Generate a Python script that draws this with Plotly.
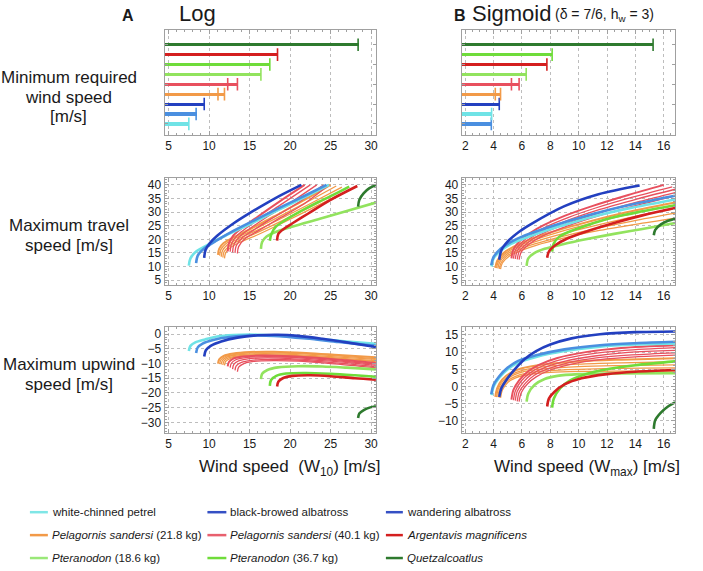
import plotly.graph_objects as go

W, H = 703, 571

# ---------------- data ----------------
SPECIES = ["petrel", "blackbrowed", "wandering", "pel21", "pel40",
           "pter18", "pter36", "argentavis", "quetz"]
LEGEND_ORDER = ["petrel", "blackbrowed", "wandering",
                "pel21", "pel40", "argentavis",
                "pter18", "pter36", "quetz"]
LEGEND_LABELS = {
    "petrel": "white-chinned petrel",
    "blackbrowed": "black-browed albatross",
    "wandering": "wandering albatross",
    "pel21": "<i>Pelagornis sandersi</i> (21.8 kg)",
    "pel40": "<i>Pelagornis sandersi</i> (40.1 kg)",
    "argentavis": "<i>Argentavis magnificens</i>",
    "pter18": "<i>Pteranodon</i> (18.6 kg)",
    "pter36": "<i>Pteranodon</i> (36.7 kg)",
    "quetz": "<i>Quetzalcoatlus</i>",
}

# minimum required wind speed (lo, hi) in SPECIES order
LOG_MIN_LO = [7.5, 8.4, 9.4, 11.1, 12.3, 16.4, 17.5, 18.45, 28.4]
LOG_MIN_HI = [7.5, 8.4, 9.4, 11.9, 13.5, 16.4, 17.5, 18.45, 28.4]
SIG_MIN_LO = [3.86, 3.84, 4.4, 4.12, 5.26, 6.3, 8.13, 7.76, 15.25]
SIG_MIN_HI = [3.86, 3.84, 4.4, 4.49, 5.8, 6.3, 8.13, 7.76, 15.25]

LOG_TICKS = [5, 10, 15, 20, 25, 30]
SIG_TICKS = [2, 4, 6, 8, 10, 12, 14, 16]
TRAVEL_TICKS = [5, 10, 15, 20, 25, 30, 35, 40]
LOG_UP_TICKS = [0, -5, -10, -15, -20, -25, -30]
SIG_UP_TICKS = [15, 10, 5, 0, -5, -10]

# --- Log model: maximum travel speed (x = W10, y = speed) ---
LT_PETREL = [(7.5, 10.3), (7.7, 13.0), (8.4, 15.5), (10.0, 18.2), (12.0, 21.3), (15.0, 25.5), (18.0, 30.0), (21.0, 34.3), (24.8, 40.0)]
LT_BLACKBROWED = [(8.4, 11.2), (8.6, 14.0), (9.4, 16.6), (11.0, 19.7), (13.0, 23.1), (16.0, 27.6), (19.0, 32.0), (22.0, 36.3), (24.5, 40.0)]
LT_WANDERING = [(9.4, 13.2), (9.55, 16.0), (10.1, 18.6), (11.0, 21.3), (13.0, 25.8), (15.0, 29.6), (17.0, 33.1), (19.0, 36.4), (21.4, 40.0)]
LT_ARGENTAVIS = [(18.4, 19.5), (18.55, 22.0), (19.3, 24.0), (20.3, 25.9), (22.2, 29.4), (25.0, 34.5), (28.3, 39.6)]
LT_PTER18 = [(16.4, 16.5), (16.55, 19.0), (17.1, 21.0), (18.3, 22.8), (21.0, 25.3), (24.0, 27.8), (27.0, 30.4), (30.6, 33.5)]
LT_PTER36 = [(17.5, 19.5), (17.7, 22.0), (18.2, 24.5), (19.5, 27.2), (21.5, 30.6), (23.5, 33.7), (25.5, 36.6), (27.3, 39.4)]
LT_QUETZ = [(28.4, 32.0), (28.55, 34.5), (29.1, 37.0), (29.8, 38.8), (30.6, 40.0)]
LT_PEL21 = [
    [(11.1, 14.3), (11.25, 16.6), (11.8, 18.6), (13.0, 20.7), (15.0, 23.6), (18.0, 28.4), (21.5, 34.0), (25.0, 40.0)],
    [(11.3, 14.0), (11.45, 16.2), (12.0, 18.2), (13.2, 20.3), (15.2, 23.1), (18.3, 27.8), (21.9, 33.4), (25.7, 39.6)],
    [(11.5, 13.6), (11.65, 15.8), (12.2, 17.8), (13.4, 19.9), (15.4, 22.6), (18.6, 27.2), (22.3, 32.8), (26.4, 39.2)],
    [(11.7, 13.3), (11.85, 15.4), (12.4, 17.3), (13.6, 19.4), (15.6, 22.0), (18.8, 26.5), (22.7, 32.3), (27.0, 38.8)],
    [(11.9, 13.0), (12.05, 15.0), (12.6, 16.9), (13.8, 18.9), (15.8, 21.4), (19.0, 25.9), (23.0, 31.8), (27.5, 38.5)],
]
LT_PEL40 = [
    [(12.3, 15.5), (12.45, 18.5), (13.0, 21.4), (14.0, 24.0), (16.0, 28.3), (18.5, 33.5), (21.8, 40.0)],
    [(12.6, 15.4), (12.75, 18.2), (13.35, 21.1), (14.4, 23.7), (16.5, 28.1), (19.1, 33.2), (22.5, 40.0)],
    [(12.9, 15.2), (13.05, 17.9), (13.7, 20.8), (14.8, 23.4), (17.0, 27.9), (19.8, 33.0), (23.3, 40.0)],
    [(13.2, 15.0), (13.35, 17.6), (14.1, 20.6), (15.4, 23.2), (17.7, 27.6), (20.6, 32.7), (24.1, 40.0)],
    [(13.5, 14.8), (13.65, 17.3), (14.5, 20.4), (16.0, 23.0), (18.5, 27.4), (21.4, 32.4), (24.8, 40.0)],
]

# --- Sigmoid model: maximum travel speed (x = Wmax) ---
ST_PETREL = [(3.86, 10.0), (4.0, 13.0), (4.5, 15.8), (5.2, 18.2), (6.0, 20.0), (7.8, 23.4), (9.0, 25.3), (11.0, 28.3), (13.5, 31.3), (16.8, 34.6)]
ST_BLACKBROWED = [(3.84, 10.5), (4.0, 13.5), (4.5, 16.5), (5.2, 19.0), (6.0, 21.0), (7.8, 24.3), (9.0, 26.3), (11.0, 29.3), (13.5, 32.5), (16.8, 36.0)]
ST_WANDERING = [(4.4, 12.5), (4.55, 16.0), (5.0, 19.2), (5.8, 22.8), (6.7, 25.8), (9.0, 32.2), (11.4, 36.6), (14.3, 39.8)]
ST_ARGENTAVIS = [(7.78, 13.2), (7.9, 15.5), (8.4, 18.0), (9.2, 20.3), (10.5, 22.8), (12.5, 26.0), (14.5, 28.8), (16.8, 31.5)]
ST_PTER18 = [(6.33, 10.2), (6.45, 13.0), (6.9, 15.0), (7.6, 16.5), (8.9, 18.2), (10.5, 20.0), (12.5, 22.0), (14.5, 23.8), (16.8, 26.0)]
ST_PTER36 = [(8.13, 15.5), (8.25, 18.5), (8.6, 20.8), (9.2, 22.5), (10.5, 25.0), (12.4, 28.0), (14.5, 30.3), (16.8, 32.5)]
ST_QUETZ = [(15.3, 21.5), (15.4, 23.5), (15.8, 25.5), (16.3, 26.8), (16.8, 27.6)]
ST_PEL21 = [
    [(4.12, 9.5), (4.25, 12.0), (4.7, 15.0), (5.5, 17.5), (6.5, 19.8), (8.0, 22.5), (10.0, 25.5), (13.0, 29.5), (16.8, 33.5)],
    [(4.21, 9.4), (4.34, 11.8), (4.8, 14.7), (5.6, 17.1), (6.6, 19.3), (8.2, 22.0), (10.2, 24.9), (13.2, 28.8), (16.8, 32.6)],
    [(4.3, 9.3), (4.43, 11.6), (4.9, 14.4), (5.7, 16.8), (6.8, 18.9), (8.5, 21.5), (10.5, 24.2), (13.5, 27.9), (16.8, 31.3)],
    [(4.4, 9.1), (4.53, 11.4), (5.0, 14.1), (5.85, 16.4), (6.9, 18.3), (8.8, 21.0), (10.8, 23.5), (13.8, 26.7), (16.8, 29.6)],
    [(4.49, 9.0), (4.62, 11.3), (5.1, 13.8), (6.0, 16.0), (7.0, 17.8), (9.0, 20.5), (11.0, 22.8), (14.0, 25.5), (16.8, 27.8)],
]
ST_PEL40 = [
    [(5.26, 13.0), (5.4, 16.3), (5.9, 19.6), (6.6, 22.4), (7.5, 25.1), (9.0, 28.6), (11.0, 32.3), (13.5, 36.3), (16.0, 40.0)],
    [(5.4, 12.9), (5.54, 16.0), (6.05, 19.2), (6.77, 22.0), (7.7, 24.6), (9.25, 28.0), (11.25, 31.6), (13.8, 35.5), (16.6, 39.3)],
    [(5.53, 12.8), (5.67, 15.7), (6.2, 18.9), (6.95, 21.6), (7.9, 24.1), (9.5, 27.5), (11.5, 31.0), (14.1, 34.8), (16.8, 38.4)],
    [(5.67, 12.6), (5.81, 15.5), (6.35, 18.5), (7.1, 21.2), (8.1, 23.6), (9.75, 26.9), (11.75, 30.2), (14.3, 33.9), (16.8, 37.2)],
    [(5.8, 12.5), (5.95, 15.3), (6.5, 18.2), (7.3, 20.8), (8.3, 23.1), (10.0, 26.3), (12.0, 29.5), (14.5, 33.0), (16.8, 36.0)],
]

# --- Log model: maximum upwind speed ---
LU_PETREL = [(7.5, -5.7), (7.7, -4.0), (8.3, -2.8), (9.5, -1.8), (11.0, -0.8), (13.0, -0.3), (16.0, -0.2), (20.0, -0.8), (24.0, -1.8), (27.0, -2.5), (30.6, -3.3)]
LU_BLACKBROWED = [(8.4, -6.4), (8.6, -4.5), (9.2, -3.2), (10.5, -2.0), (12.5, -1.0), (15.0, -0.5), (18.0, -0.6), (22.0, -1.5), (26.0, -2.7), (30.6, -4.0)]
LU_WANDERING = [(9.4, -7.6), (9.6, -5.5), (10.2, -4.0), (11.5, -2.5), (13.5, -1.2), (16.0, -0.4), (18.5, -0.2), (21.0, -0.6), (24.0, -1.6), (27.0, -2.8), (30.6, -4.4)]
LU_ARGENTAVIS = [(18.4, -17.8), (18.55, -16.2), (19.1, -15.0), (20.3, -14.2), (22.5, -14.0), (25.0, -14.3), (28.0, -15.0), (30.6, -15.5)]
LU_PTER18 = [(16.4, -15.3), (16.55, -13.5), (17.2, -12.2), (18.5, -11.3), (21.0, -10.9), (24.0, -11.0), (27.0, -11.4), (30.6, -12.0)]
LU_PTER36 = [(17.5, -17.6), (17.65, -15.6), (18.3, -14.2), (19.5, -13.4), (22.0, -13.2), (25.0, -13.5), (28.0, -14.0), (30.6, -14.5)]
LU_QUETZ = [(28.4, -28.5), (28.55, -27.0), (29.1, -25.8), (29.9, -24.9), (30.6, -24.5)]
LU_PEL21 = [
    [(11.1, -10.0), (11.25, -8.6), (11.8, -7.4), (13.0, -6.6), (15.0, -6.1), (18.0, -6.0), (22.0, -6.4), (26.0, -7.1), (30.6, -7.9)],
    [(11.3, -10.2), (11.45, -8.8), (12.0, -7.6), (13.2, -6.9), (15.3, -6.4), (18.3, -6.4), (22.3, -6.8), (26.3, -7.5), (30.6, -8.3)],
    [(11.5, -10.3), (11.65, -8.9), (12.2, -7.8), (13.4, -7.1), (15.5, -6.7), (18.6, -6.7), (22.6, -7.2), (26.6, -7.9), (30.6, -8.6)],
    [(11.7, -10.5), (11.85, -9.1), (12.4, -8.1), (13.6, -7.4), (15.8, -7.0), (18.8, -7.1), (22.8, -7.6), (26.8, -8.3), (30.6, -9.0)],
    [(11.9, -10.6), (12.05, -9.3), (12.6, -8.3), (13.8, -7.6), (16.0, -7.3), (19.0, -7.4), (23.0, -7.9), (27.0, -8.6), (30.6, -9.3)],
]
LU_PEL40 = [
    [(12.3, -11.0), (12.45, -9.5), (13.0, -8.3), (14.2, -7.6), (16.5, -7.3), (20.0, -7.5), (24.0, -8.2), (27.0, -8.9), (30.6, -9.8)],
    [(12.6, -11.4), (12.75, -9.9), (13.3, -8.7), (14.5, -8.0), (16.9, -7.7), (20.3, -7.9), (24.3, -8.7), (27.3, -9.4), (30.6, -10.2)],
    [(12.9, -11.9), (13.05, -10.3), (13.65, -9.1), (14.8, -8.4), (17.2, -8.1), (20.5, -8.4), (24.5, -9.1), (27.5, -9.8), (30.6, -10.6)],
    [(13.2, -12.3), (13.35, -10.8), (14.0, -9.6), (15.2, -8.9), (17.6, -8.6), (20.8, -8.8), (24.8, -9.6), (27.8, -10.3), (30.6, -11.1)],
    [(13.5, -12.8), (13.65, -11.2), (14.3, -10.0), (15.5, -9.3), (18.0, -9.0), (21.0, -9.2), (25.0, -10.0), (28.0, -10.7), (30.6, -11.5)],
]

# --- Sigmoid model: maximum upwind speed ---
SU_PETREL = [(3.86, -2.5), (4.0, 0.0), (4.4, 2.6), (5.0, 5.0), (5.7, 6.9), (7.0, 8.6), (9.0, 10.3), (11.5, 11.6), (14.0, 12.2), (16.8, 12.5)]
SU_BLACKBROWED = [(3.84, -2.2), (4.0, 0.5), (4.4, 3.0), (5.0, 5.5), (5.7, 7.4), (7.0, 9.1), (9.0, 10.8), (11.5, 12.0), (14.0, 12.6), (16.8, 13.0)]
SU_WANDERING = [(4.4, -3.0), (4.55, -0.5), (5.0, 2.5), (5.6, 5.5), (6.2, 8.0), (7.0, 10.3), (8.0, 12.2), (9.5, 14.0), (11.5, 15.2), (14.0, 15.8), (16.8, 16.0)]
SU_ARGENTAVIS = [(7.78, -5.8), (7.9, -3.5), (8.3, -1.5), (9.0, 0.6), (10.2, 2.4), (12.0, 3.6), (14.0, 4.3), (16.8, 4.8)]
SU_PTER18 = [(6.33, -4.4), (6.45, -2.0), (6.9, 0.5), (7.6, 2.2), (8.5, 3.1), (10.0, 3.6), (12.5, 3.8), (16.8, 3.9)]
SU_PTER36 = [(8.13, -6.1), (8.25, -3.5), (8.7, -0.5), (9.4, 1.8), (10.5, 3.6), (12.0, 5.0), (14.0, 6.2), (16.8, 7.3)]
SU_QUETZ = [(15.3, -12.3), (15.4, -9.8), (15.8, -7.6), (16.3, -5.8), (16.8, -4.6)]
SU_PEL21 = [
    [(4.12, -3.0), (4.25, -0.5), (4.6, 2.0), (5.2, 4.0), (6.0, 5.3), (7.5, 6.4), (10.0, 7.3), (13.0, 7.8), (16.8, 8.2)],
    [(4.21, -3.1), (4.34, -0.6), (4.7, 1.8), (5.3, 3.6), (6.1, 4.8), (7.6, 5.8), (10.0, 6.5), (13.0, 6.9), (16.8, 7.2)],
    [(4.3, -3.1), (4.43, -0.7), (4.8, 1.6), (5.4, 3.3), (6.2, 4.4), (7.7, 5.2), (10.0, 5.8), (13.0, 6.1), (16.8, 6.3)],
    [(4.4, -3.2), (4.53, -0.9), (4.9, 1.4), (5.5, 2.9), (6.35, 3.9), (7.9, 4.6), (10.0, 5.0), (13.0, 5.3), (16.8, 5.4)],
    [(4.49, -3.3), (4.62, -1.0), (5.0, 1.2), (5.6, 2.6), (6.5, 3.5), (8.0, 4.1), (10.0, 4.4), (13.0, 4.5), (16.8, 4.5)],
]
SU_PEL40 = [
    [(5.26, -3.8), (5.4, -1.0), (5.8, 1.8), (6.4, 4.3), (7.2, 6.3), (8.5, 8.3), (10.5, 10.0), (13.0, 11.2), (16.8, 12.0)],
    [(5.4, -4.0), (5.54, -1.2), (5.95, 1.6), (6.55, 3.9), (7.4, 5.9), (8.75, 7.8), (10.75, 9.4), (13.25, 10.5), (16.8, 11.3)],
    [(5.53, -4.1), (5.67, -1.4), (6.1, 1.3), (6.7, 3.6), (7.6, 5.5), (9.0, 7.3), (11.0, 8.8), (13.5, 9.9), (16.8, 10.5)],
    [(5.67, -4.3), (5.81, -1.6), (6.25, 1.0), (6.85, 3.2), (7.8, 5.1), (9.25, 6.9), (11.25, 8.3), (13.75, 9.2), (16.8, 9.8)],
    [(5.8, -4.4), (5.95, -1.8), (6.4, 0.8), (7.0, 2.8), (8.0, 4.8), (9.5, 6.5), (11.5, 7.8), (14.0, 8.6), (16.8, 9.1)],
]

# ---------------- styles ----------------
COLORS = {
    "petrel": "#6fe3e6", "blackbrowed": "#4a8fe0", "wandering": "#2340c0",
    "pel21": "#f29a48", "pel40": "#e8505e", "argentavis": "#d41f1f",
    "pter18": "#92e35e", "pter36": "#6fdc3a", "quetz": "#2e7a2e",
}
LEGEND_COLORS = {
    "petrel": "#7fe6e6", "blackbrowed": "#3550c4", "wandering": "#3550c4",
    "pel21": "#f29a48", "pel40": "#e8606e", "argentavis": "#d41f1f",
    "pter18": "#9ae878", "pter36": "#6fdc3a", "quetz": "#2e7a2e",
}
FONT = "Liberation Sans, Arial, sans-serif"
TXT = "#1a1a1a"


def PX(px):
    # reference pixel -> paper fraction
    return px / W


def PY(py):
    return 1 - py / H


fig = go.Figure()

# ---- top panels: minimum required wind speed ----
for (lo_list, hi_list, xa, ya) in [(LOG_MIN_LO, LOG_MIN_HI, "x", "y"),
                                   (SIG_MIN_LO, SIG_MIN_HI, "x2", "y2")]:
    order = sorted(range(len(SPECIES)), key=lambda i: hi_list[i])
    names = [SPECIES[i] for i in order]
    fig.add_trace(go.Bar(
        x=[hi_list[i] for i in order], y=names, base=0, orientation="h",
        width=0.32, marker=dict(color=[COLORS[n] for n in names], line=dict(width=0)),
        xaxis=xa, yaxis=ya, showlegend=False, hoverinfo="skip"))
    cx, cy, cc = [], [], []
    for i in order:
        for v in sorted(set([lo_list[i], hi_list[i]])):
            cx.append(v)
            cy.append(SPECIES[i])
            cc.append(COLORS[SPECIES[i]])
    fig.add_trace(go.Scatter(
        x=cx, y=cy, mode="markers", xaxis=xa, yaxis=ya, showlegend=False, hoverinfo="skip",
        marker=dict(symbol="line-ns", size=9, color=cc, line=dict(width=1.6, color=cc))))


def add_curve(points, xa, ya, color, width):
    fig.add_trace(go.Scatter(
        x=[p[0] for p in points], y=[p[1] for p in points], mode="lines",
        line=dict(color=color, width=width, shape="spline", smoothing=0.9),
        xaxis=xa, yaxis=ya, showlegend=False, hoverinfo="skip"))


panels = [
    ("x3", "y3", dict(pel21=LT_PEL21, pel40=LT_PEL40), dict(
        pter18=LT_PTER18, pter36=LT_PTER36, argentavis=LT_ARGENTAVIS, petrel=LT_PETREL,
        blackbrowed=LT_BLACKBROWED, wandering=LT_WANDERING, quetz=LT_QUETZ)),
    ("x4", "y4", dict(pel21=ST_PEL21, pel40=ST_PEL40), dict(
        pter18=ST_PTER18, pter36=ST_PTER36, argentavis=ST_ARGENTAVIS, petrel=ST_PETREL,
        blackbrowed=ST_BLACKBROWED, wandering=ST_WANDERING, quetz=ST_QUETZ)),
    ("x5", "y5", dict(pel21=LU_PEL21, pel40=LU_PEL40), dict(
        pter18=LU_PTER18, pter36=LU_PTER36, argentavis=LU_ARGENTAVIS, petrel=LU_PETREL,
        blackbrowed=LU_BLACKBROWED, wandering=LU_WANDERING, quetz=LU_QUETZ)),
    ("x6", "y6", dict(pel21=SU_PEL21, pel40=SU_PEL40), dict(
        pter18=SU_PTER18, pter36=SU_PTER36, argentavis=SU_ARGENTAVIS, petrel=SU_PETREL,
        blackbrowed=SU_BLACKBROWED, wandering=SU_WANDERING, quetz=SU_QUETZ)),
]
for xa, ya, fams, singles in panels:
    for key, curves in fams.items():
        for k, c in enumerate(curves):
            add_curve(c, xa, ya, COLORS[key], 2.0 if k == 0 else 1.3)
    for key, c in singles.items():
        add_curve(c, xa, ya, COLORS[key], 2.6)

# ---------------- axes ----------------
FRAME = "#a0a0a0"
GRID = "#bdbdbd"


def ax(**kw):
    d = dict(showline=True, linecolor=FRAME, linewidth=1, mirror="allticks",
             ticks="inside", ticklen=4, tickcolor=FRAME, tickwidth=1,
             showgrid=True, gridcolor=GRID, griddash="dot", gridwidth=1,
             zeroline=False, tickfont=dict(family=FONT, size=12, color=TXT),
             fixedrange=True)
    d.update(kw)
    return d


XL = [PX(165), PX(377)]
XR = [PX(463), PX(677)]
YT = [PY(135), PY(30)]
YM = [PY(286), PY(179)]
YB = [PY(434.5), PY(328.5)]

minor_log = dict(ticks="inside", ticklen=2, tickcolor=FRAME, dtick=1, showgrid=False)
minor_sig = dict(ticks="inside", ticklen=2, tickcolor=FRAME, dtick=0.5, showgrid=False)
minor_y = dict(ticks="inside", ticklen=2, tickcolor=FRAME, dtick=1, showgrid=False)

cat_y = dict(type="category", showticklabels=False, showgrid=False,
             range=[-1.08, 9.5], ticklen=3)

fig.update_layout(
    xaxis=ax(domain=XL, anchor="y", range=[4.5, 30.6], tickvals=LOG_TICKS, minor=minor_log),
    yaxis=ax(domain=YT, anchor="x", **cat_y),
    xaxis2=ax(domain=XR, anchor="y2", range=[1.75, 16.8], tickvals=SIG_TICKS, minor=minor_sig),
    yaxis2=ax(domain=YT, anchor="x2", **cat_y),
    xaxis3=ax(domain=XL, anchor="y3", range=[4.5, 30.6], tickvals=LOG_TICKS, minor=minor_log),
    yaxis3=ax(domain=YM, anchor="x3", range=[3.2, 42.4], tickvals=TRAVEL_TICKS, minor=minor_y),
    xaxis4=ax(domain=XR, anchor="y4", range=[1.75, 16.8], tickvals=SIG_TICKS, minor=minor_sig),
    yaxis4=ax(domain=YM, anchor="x4", range=[3.2, 42.4], tickvals=TRAVEL_TICKS, minor=minor_y),
    xaxis5=ax(domain=XL, anchor="y5", range=[4.5, 30.6], tickvals=LOG_TICKS, minor=minor_log),
    yaxis5=ax(domain=YB, anchor="x5", range=[-33.6, 2.3], tickvals=LOG_UP_TICKS, minor=minor_y),
    xaxis6=ax(domain=XR, anchor="y6", range=[1.75, 16.8], tickvals=SIG_TICKS, minor=minor_sig),
    yaxis6=ax(domain=YB, anchor="x6", range=[-13.5, 17.2], tickvals=SIG_UP_TICKS, minor=minor_y),
)

# ---------------- text ----------------
ann = []


def text(t, px, py, size, xanchor="center", family=FONT):
    ann.append(dict(text=t, x=PX(px), y=PY(py), xref="paper", yref="paper",
                    xanchor=xanchor, yanchor="middle", showarrow=False,
                    font=dict(family=family, size=size, color=TXT)))


text("<b>A</b>", 128, 16, 16)
text("Log", 198, 14, 22)
text("<b>B</b>", 461, 16, 16)
text("Sigmoid", 471, 14, 22, "left")
text("(δ = 7/6, h<sub>w</sub> = 3)", 555, 15, 14, "left")
text("Minimum required", 69, 78, 17)
text("wind speed", 69, 98, 17)
text("[m/s]", 69, 117, 17)
text("Maximum travel", 69, 226, 17)
text("speed [m/s]", 69, 246, 17)
text("Maximum upwind", 69, 366, 17)
text("speed [m/s]", 69, 386, 17)
text("Wind speed\u00a0\u00a0(W<sub>10</sub>) [m/s]", 198, 470, 17, "left")
text("Wind speed (W<sub>max</sub>) [m/s]", 493, 470, 17, "left")

# legend (3 columns x 3 rows)
LEG_COLS = [(30, 48), (208, 227), (387, 404)]
LEG_ROWS = [514, 537, 560]
shapes = []
for idx, key in enumerate(LEGEND_ORDER):
    col = idx % 3
    row = idx // 3
    x0, x1 = LEG_COLS[col]
    yy = LEG_ROWS[row]
    shapes.append(dict(type="line", xref="paper", yref="paper", x0=PX(x0), x1=PX(x1),
                       y0=PY(yy), y1=PY(yy), line=dict(color=LEGEND_COLORS[key], width=2.5)))
    text(LEGEND_LABELS[key], x1 + 2, yy, 11.5, "left")

fig.update_layout(
    width=W, height=H, margin=dict(l=0, r=0, t=0, b=0),
    paper_bgcolor="white", plot_bgcolor="white",
    showlegend=False, annotations=ann, shapes=shapes, bargap=0,
)

# remove the browser's default 8px page margin so the figure fills the window
fig.write_html("out.html", config={"displayModeBar": False},
               post_script="document.body.style.margin='0px';")
